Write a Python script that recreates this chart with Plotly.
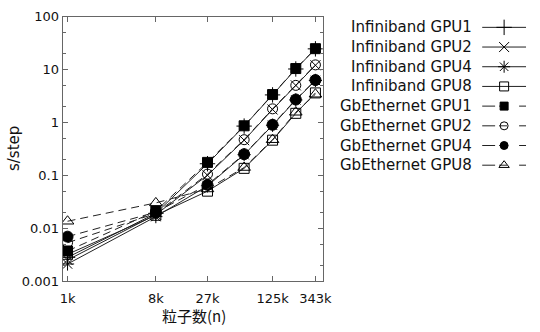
import plotly.graph_objects as go

# ---------------- data ----------------
n_particles = [1000, 8000, 27000, 64000, 125000, 216000, 343000]

ib_gpu1 = [0.0028, 0.019, 0.165, 0.85, 3.3, 10.2, 24.5]
ib_gpu2 = [0.0025, 0.018, 0.100, 0.46, 1.75, 5.0, 12.0]
ib_gpu4 = [0.0021, 0.0165, 0.063, 0.245, 0.88, 2.65, 6.2]
ib_gpu8 = [0.0032, 0.0175, 0.050, 0.135, 0.46, 1.48, 3.6]
gbe_gpu1 = [0.0037, 0.021, 0.175, 0.86, 3.35, 10.4, 24.7]
gbe_gpu2 = [0.0053, 0.019, 0.105, 0.47, 1.8, 5.0, 12.2]
gbe_gpu4 = [0.0069, 0.020, 0.066, 0.25, 0.9, 2.7, 6.3]
gbe_gpu8 = [0.0135, 0.030, 0.055, 0.14, 0.47, 1.55, 3.4]

series_names = ["Infiniband GPU1", "Infiniband GPU2", "Infiniband GPU4", "Infiniband GPU8",
                "GbEthernet GPU1", "GbEthernet GPU2", "GbEthernet GPU4", "GbEthernet GPU8"]
series_values = [ib_gpu1, ib_gpu2, ib_gpu4, ib_gpu8, gbe_gpu1, gbe_gpu2, gbe_gpu4, gbe_gpu8]
symbols = ["cross-thin-open", "x-thin-open", "asterisk-open", "square-open",
           "square", "circle-open", "circle", "triangle-up-open"]
marker_sizes = [11, 10, 11, 10, 10, 10, 11, 11]
legend_marker_sizes = [11, 10, 10, 9, 8, 8, 8, 9]

x_tickvals = [1000, 8000, 27000, 125000, 343000]
x_ticktext = ["1k", "8k", "27k", "125k", "343k"]
y_tickvals = [0.001, 0.01, 0.1, 1, 10, 100]
y_ticktext = ["0.001", "0.01", "0.1", "1", "10", "100"]
y_minor = [m * 10 ** e for e in range(-3, 2) for m in (2, 5)]

W, H = 540, 332
FONT = "DejaVu Sans"
LINE_C = "#222222"
AX_C = "#666666"

fig = go.Figure()

for i, (name, vals) in enumerate(zip(series_names, series_values)):
    dashed = name.startswith("GbE")
    fig.add_trace(go.Scatter(
        x=n_particles, y=vals, mode="lines+markers", name=name,
        line=dict(color=LINE_C, width=1, dash="8px,5px" if dashed else "solid"),
        marker=dict(symbol=symbols[i], size=marker_sizes[i], color="black",
                    line=dict(color="black", width=1)),
        xaxis="x", yaxis="y", showlegend=False, hoverinfo="skip"))

# legend samples on an overlay axis
for i, name in enumerate(series_names):
    dashed = name.startswith("GbE")
    fig.add_trace(go.Scatter(
        x=[0, 1], y=[i, i], mode="lines",
        line=dict(color=LINE_C, width=1, dash="13px,4px,8px,12px" if dashed else "solid"),
        xaxis="x2", yaxis="y2", showlegend=False, hoverinfo="skip"))
    fig.add_trace(go.Scatter(
        x=[0.5], y=[i], mode="markers",
        marker=dict(symbol=symbols[i], size=legend_marker_sizes[i], color="black",
                    line=dict(color="black", width=1)),
        xaxis="x2", yaxis="y2", showlegend=False, hoverinfo="skip"))

leg_top, leg_bot = 11, 176
annotations = []
row_h = (leg_bot - leg_top) / 8
for i, name in enumerate(series_names):
    ypx = leg_top + row_h * (i + 0.5)
    annotations.append(dict(x=482 / W, y=1 - ypx / H, xref="paper", yref="paper",
                            text=name, showarrow=False, xanchor="right", yanchor="middle",
                            font=dict(family=FONT, size=15, color="#111")))

annotations.append(dict(x=12 / W, y=1 - 148 / H, xref="paper", yref="paper", text="s/step",
                        textangle=-90, showarrow=False, xanchor="center", yanchor="middle",
                        font=dict(family=FONT, size=15, color="#111")))
annotations.append(dict(x=195 / W, y=1 - 323 / H, xref="paper", yref="paper", text="粒子数(n)",
                        showarrow=False, xanchor="center", yanchor="middle",
                        font=dict(family="Noto Sans CJK JP, " + FONT, size=15, color="#111")))

fig.update_layout(
    width=W, height=H, margin=dict(l=0, r=0, t=0, b=0),
    paper_bgcolor="white", plot_bgcolor="white", hovermode=False,
    showlegend=False,
    font=dict(family=FONT, size=13, color="#111"),
    xaxis=dict(type="log", domain=[61 / W, 327 / W], range=[2.95, 5.61],
               tickvals=x_tickvals, ticktext=x_ticktext, ticks="inside", ticklen=5,
               tickcolor=AX_C, showline=True, linecolor=AX_C, linewidth=1, mirror="ticks",
               showgrid=False, zeroline=False, anchor="y", ticklabelstandoff=5,
               tickfont=dict(family=FONT, size=13, color="#111")),
    yaxis=dict(type="log", domain=[(H - 287) / H, (H - 10) / H], range=[-3, 2],
               tickvals=y_tickvals, ticktext=y_ticktext, ticks="inside", ticklen=5,
               tickcolor=AX_C, showline=True, linecolor=AX_C, linewidth=1, mirror="ticks",
               showgrid=False, zeroline=False, anchor="x",
               minor=dict(ticks="inside", ticklen=3, tickcolor=AX_C, tickvals=y_minor, showgrid=False),
               tickfont=dict(family=FONT, size=13, color="#111")),
    xaxis2=dict(domain=[490 / W, 535 / W], range=[0, 1], visible=False, anchor="y2"),
    yaxis2=dict(domain=[(H - leg_bot) / H, (H - leg_top) / H], range=[7.5, -0.5],
                visible=False, anchor="x2"),
    annotations=annotations,
)

fig.write_html("out.html")
